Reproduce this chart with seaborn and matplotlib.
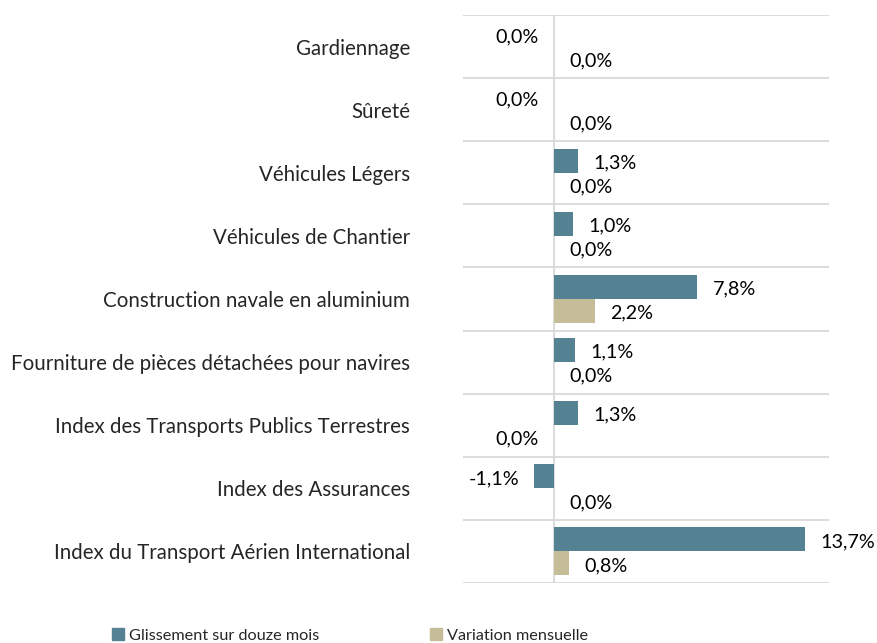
import pandas as pd
import matplotlib
matplotlib.use('Agg')
import matplotlib.pyplot as plt
from matplotlib.patches import Patch
import seaborn as sns

# Donnees
categories = ['Gardiennage', 'Sûreté', 'Véhicules Légers', 'Véhicules de Chantier',
              'Construction navale en aluminium',
              'Fourniture de pièces détachées pour navires',
              'Index des Transports Publics Terrestres', 'Index des Assurances',
              'Index du Transport Aérien International']
glissement = [-0.01, -0.01, 1.3, 1.0, 7.8, 1.1, 1.3, -1.1, 13.7]
mensuelle = [0.0, 0.0, 0.0, 0.0, 2.2, 0.0, -0.01, 0.0, 0.8]
series = ['Glissement sur douze mois', 'Variation mensuelle']
colors = ['#558292', '#C4BD97']

df = pd.DataFrame({
    'categorie': categories * 2,
    'valeur': glissement + mensuelle,
    'serie': [series[0]] * len(categories) + [series[1]] * len(categories),
})

sns.set_style('white')
plt.rcParams['font.family'] = ['Lato', 'DejaVu Sans']

fig = plt.figure(figsize=(8.78, 6.43), dpi=100)
ax = fig.add_axes([0.5273, 0.0933, 0.4169, 0.8834])

sns.barplot(data=df, y='categorie', x='valeur', hue='serie', orient='h',
            palette=colors, width=0.76, linewidth=0, saturation=1, legend=False, ax=ax)

ax.set_xlim(-5, 15)
ax.set_xlabel('')
ax.set_ylabel('')
ax.set_xticks([])
for s in ax.spines.values():
    s.set_visible(False)

# lignes de separation entre categories
ax.set_yticks([i - 0.5 for i in range(len(categories) + 1)], minor=True)
ax.grid(True, which='minor', axis='y', color='#d9d9d9', linewidth=1.3)
ax.axvline(0, color='#d9d9d9', linewidth=1.3, zorder=0)
ax.tick_params(axis='y', which='both', length=0, pad=38, labelsize=14.8)
ax.set_axisbelow(True)

def fmt(v):
    txt = f'{v:.1f}'.replace('.', ',') + '%'
    return txt.replace('-0,0%', '0,0%')

for cont, vals in zip(ax.containers, [glissement, mensuelle]):
    for bar, v in zip(cont, vals):
        yc = bar.get_y() + bar.get_height() / 2
        side = -1 if v < 0 else 1
        ax.annotate(fmt(v), (v, yc), xytext=(side * 11, -1.5), textcoords='offset points',
                    ha='right' if side < 0 else 'left', va='center', fontsize=14.2,
                    color='black')

handles = [Patch(color=c, label=s) for c, s in zip(colors, series)]
fig.legend(handles=handles, loc='lower left', bbox_to_anchor=(0.111, -0.022), ncol=2,
           frameon=False, fontsize=11.7, handlelength=0.75, handleheight=0.75,
           handletextpad=0.3, columnspacing=6.8)

fig.savefig('out.png', dpi=100)
